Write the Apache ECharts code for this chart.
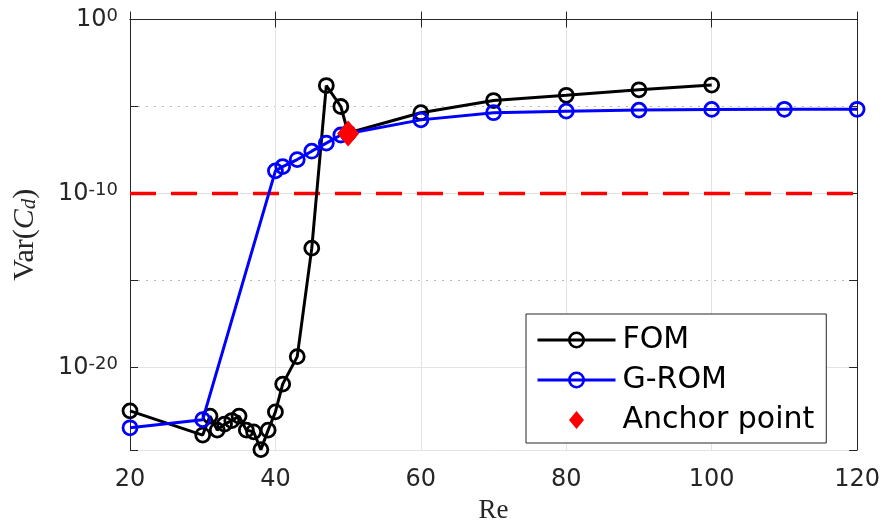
<!DOCTYPE html>
<html>
<head>
<meta charset="utf-8">
<script src="https://cdn.jsdelivr.net/npm/echarts@6/dist/echarts.min.js"></script>
<style>
html,body{margin:0;padding:0;background:#fff;}
#chart{width:883px;height:529px;}
</style>
</head>
<body>
<div id="chart"></div>
<script>
// ---- data (Var(C_d) values, plotted on a log10 scale) ----
const reFOM  = [20, 30, 31, 32, 33, 34, 35, 36, 37, 38, 39, 40, 41, 43, 45, 47, 49, 50, 60, 70, 80, 90, 100];
const varFOM = [3.2e-23, 1.3e-24, 1.6e-23, 2.5e-24, 5.6e-24, 8.9e-24, 1.6e-23, 2.5e-24, 2.0e-24, 1.9e-25, 2.5e-24, 2.8e-23,
                1.1e-21, 4.2e-20, 7.2e-14, 1.6e-4, 1.0e-5, 3.0e-7, 4.4e-6, 2.2e-5, 4.4e-5, 9.1e-5, 1.7e-4];
const reROM  = [20, 30, 40, 41, 43, 45, 47, 49, 50, 60, 70, 80, 90, 100, 110, 120];
const varROM = [3.4e-24, 1.0e-23, 2.0e-9, 3.5e-9, 8.9e-9, 2.7e-8, 7.9e-8, 2.3e-7, 2.8e-7, 1.7e-6, 4.4e-6, 5.4e-6, 6.2e-6, 6.8e-6, 6.9e-6, 6.9e-6];
const anchorRe = [50];
const anchorVar = [2.8e-7];
const thresholdRe = [20, 120];
const thresholdVar = [1e-10, 1e-10];
const xRange = [20, 120];
const yRange = [1.78e-25, 1];          // axis limits (values)
const seriesNames = ['FOM', 'G-ROM', 'Anchor point'];

const lg = v => Math.log10(v);
const zipLog = (a, b) => a.map((v, i) => [v, lg(b[i])]);
const tickColor = '#262626';
const sans = 'DejaVu Sans';
const serif = 'Liberation Serif';
const yMin = lg(yRange[0]), yMax = lg(yRange[1]);

function yLabel(e) {
  const r = Math.round(e);
  if (Math.abs(e - r) > 1e-6 || r % 10 !== 0) return '';
  return '{b|10}{s|' + r + '}';
}

const chart = echarts.init(document.getElementById('chart'), null, {renderer: 'canvas'});
const axisLineStyle = {color: tickColor, width: 1};
const option = {
  animation: false,
  backgroundColor: '#fff',
  grid: {left: 130, top: 15, right: 25, bottom: 78, containLabel: false},
  legend: {
    orient: 'vertical',
    left: 526, top: 314,
    padding: [11, 12, 8, 10],
    itemWidth: 78, itemHeight: 18, itemGap: 10,
    backgroundColor: '#fff',
    borderColor: '#262626', borderWidth: 1,
    lineStyle: {width: 3},
    itemStyle: {borderWidth: 2.6},
    data: [
      {name: seriesNames[0]},
      {name: seriesNames[1]},
      {name: seriesNames[2], icon: 'path://M0,-12L10,0L0,12L-10,0Z'}
    ],
    textStyle: {fontFamily: sans, fontSize: 30, color: '#000', lineHeight: 30, padding: [0, 0, 0, 2]}
  },
  xAxis: [{
    type: 'value', position: 'bottom', min: xRange[0], max: xRange[1], splitNumber: 5,
    axisLine: {show: true, lineStyle: axisLineStyle},
    axisTick: {show: true, inside: true, length: 8, lineStyle: axisLineStyle},
    axisLabel: {fontFamily: sans, fontSize: 24, color: tickColor, margin: 18},
    splitLine: {show: true, lineStyle: {color: '#e3e3e3', width: 1}},
    name: 'Re', nameLocation: 'middle', nameGap: 46,
    nameTextStyle: {fontFamily: serif, fontSize: 27, color: tickColor}
  }, {
    type: 'value', position: 'top', min: xRange[0], max: xRange[1], splitNumber: 5,
    axisLine: {show: true, lineStyle: axisLineStyle},
    axisTick: {show: true, inside: true, length: 8, lineStyle: axisLineStyle},
    axisLabel: {show: false}, splitLine: {show: false}
  }],
  yAxis: [{
    // right axis + dotted grid every 5 decades
    type: 'value', position: 'right', min: yMin, max: yMax, splitNumber: 5,
    axisLine: {show: true, lineStyle: axisLineStyle},
    axisTick: {show: true, inside: true, length: 8, lineStyle: axisLineStyle},
    axisLabel: {show: false},
    splitLine: {show: true, lineStyle: {color: '#b8b8b8', width: 1, type: [2, 6]}}
  }, {
    // left axis with labels + solid grid every 10 decades
    type: 'value', position: 'left', min: yMin, max: yMax, splitNumber: 2,
    axisLine: {show: true, lineStyle: axisLineStyle},
    axisTick: {show: true, inside: true, length: 8, lineStyle: axisLineStyle},
    axisLabel: {
      formatter: yLabel, margin: 12, color: tickColor,
      rich: {
        b: {fontFamily: sans, fontSize: 24, color: tickColor, verticalAlign: 'bottom', lineHeight: 25, padding: [8, 0, 0, 0]},
        s: {fontFamily: sans, fontSize: 18, color: tickColor, verticalAlign: 'top', lineHeight: 19}
      }
    },
    splitLine: {show: true, lineStyle: {color: '#e3e3e3', width: 1}},
    name: '{n|Var(}{i|C}{d|d}{n|)}', nameLocation: 'middle', nameGap: 90, nameRotate: 90,
    nameTextStyle: {
      rich: {
        n: {fontFamily: serif, fontSize: 30, color: tickColor, verticalAlign: 'bottom', lineHeight: 33},
        i: {fontFamily: serif, fontSize: 30, fontStyle: 'italic', color: tickColor, verticalAlign: 'bottom', lineHeight: 33},
        d: {fontFamily: serif, fontSize: 21, fontStyle: 'italic', color: tickColor, verticalAlign: 'bottom', lineHeight: 26}
      }
    }
  }, {
    // left ticks every 5 decades
    type: 'value', position: 'left', min: yMin, max: yMax, splitNumber: 5,
    axisLine: {show: false},
    axisTick: {show: true, inside: true, length: 8, lineStyle: axisLineStyle},
    axisLabel: {show: false}, splitLine: {show: false}
  }],
  series: [{
    name: 'threshold', type: 'line', xAxisIndex: 0, yAxisIndex: 1,
    data: zipLog(thresholdRe, thresholdVar), symbol: 'none', silent: true,
    lineStyle: {color: '#ff0000', width: 3.5, type: [26, 15]}, z: 2
  }, {
    name: seriesNames[0], type: 'line', xAxisIndex: 0, yAxisIndex: 1,
    data: zipLog(reFOM, varFOM), symbol: 'circle', symbolSize: 14, clip: false,
    lineStyle: {color: '#000', width: 3},
    itemStyle: {color: 'rgba(0,0,0,0)', borderColor: '#000', borderWidth: 2.8}, z: 3
  }, {
    name: seriesNames[1], type: 'line', xAxisIndex: 0, yAxisIndex: 1,
    data: zipLog(reROM, varROM), symbol: 'circle', symbolSize: 14, clip: false,
    lineStyle: {color: '#0000ff', width: 3},
    itemStyle: {color: 'rgba(0,0,0,0)', borderColor: '#0000ff', borderWidth: 2.8}, z: 4
  }, {
    name: seriesNames[2], type: 'scatter', xAxisIndex: 0, yAxisIndex: 1,
    data: zipLog(anchorRe, anchorVar), symbol: 'diamond', symbolSize: [22, 26],
    itemStyle: {color: '#ff0000', opacity: 1}, z: 5
  }]
};
chart.setOption(option);
</script>
</body>
</html>
